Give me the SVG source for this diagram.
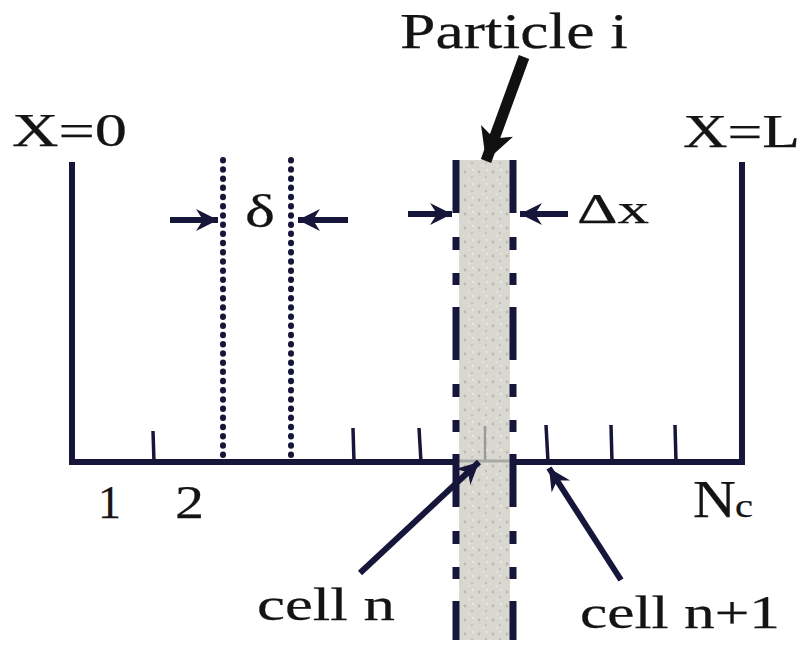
<svg xmlns="http://www.w3.org/2000/svg" width="806" height="649" viewBox="0 0 806 649">
<style>
.ln{stroke:#16163a;stroke-width:6;fill:none;stroke-linecap:butt}
.tick{stroke:#16163a;stroke-width:3.5;fill:none}
.dot{stroke:#16163a;stroke-width:6;fill:none;stroke-linecap:round;stroke-dasharray:0.5 8.7}
.dd{stroke:#16163a;stroke-width:7;fill:none;stroke-dasharray:53 24 13 23 12 22}
.arr{stroke:#16163a;stroke-width:6;fill:none}
.big{stroke:#111;stroke-width:11;fill:none}
.t{font-family:"Liberation Serif","Times New Roman",serif;fill:#141414;stroke:#141414;stroke-width:0.25}
</style>
<defs>
<pattern id="speck" width="14" height="14" patternUnits="userSpaceOnUse">
<rect width="14" height="14" fill="#d8d8d1"/>
<circle cx="3" cy="4" r="1.4" fill="#bfb8b0"/>
<circle cx="10" cy="9" r="1.2" fill="#c6bfb8"/>
<circle cx="7" cy="12" r="0.9" fill="#e8e8e2"/>
<circle cx="11" cy="2" r="1" fill="#ecece6"/>
</pattern>
<marker id="ah" markerUnits="userSpaceOnUse" viewBox="-24 -12 26 24" markerWidth="26" markerHeight="24" refX="0" refY="0" orient="auto">
<path d="M0,0 L-22,-11 L-15,0 L-22,11 Z" fill="#16163a"/>
</marker>
<marker id="ahb" markerUnits="userSpaceOnUse" viewBox="-34 -18 36 36" markerWidth="36" markerHeight="36" refX="0" refY="0" orient="auto">
<path d="M0,0 L-32,-17 L-24,0 L-32,17 Z" fill="#111"/>
</marker>
</defs>
<rect width="806" height="649" fill="#fff"/>

<g id="container">
<path class="ln" d="M72,162 V462 H455"/>
<path class="ln" d="M513,462 H742 V162"/>
</g>

<g id="ticks">
<path class="tick" d="M153,431 L154,462"/>
<path class="tick" d="M353,428 L354,462"/>
<path class="tick" d="M419,428 L421,462"/>
<path class="tick" d="M546,425 L548,462"/>
<path class="tick" d="M611,425 L612,462"/>
<path class="tick" d="M675,425 L676,462"/>
</g>

<g id="delta-lines">
<line class="dot" x1="223" y1="160" x2="223" y2="458"/>
<line class="dot" x1="291" y1="160" x2="291" y2="458"/>
</g>

<g id="particle">
<rect x="459" y="160" width="51" height="480" fill="url(#speck)"/>
<line x1="459" y1="461" x2="510" y2="461" stroke="#a8a8a4" stroke-width="3"/>
<line x1="485" y1="426" x2="485" y2="460" stroke="#9a9a96" stroke-width="2.5"/>
<line class="dd" x1="456" y1="160" x2="456" y2="640"/>
<line class="dd" x1="513" y1="160" x2="513" y2="640"/>
</g>

<g id="connectors">
<line class="arr" x1="170" y1="220" x2="218" y2="220" marker-end="url(#ah)"/>
<line class="arr" x1="348" y1="220" x2="298" y2="220" marker-end="url(#ah)"/>
<line class="arr" x1="408" y1="214" x2="452" y2="214" marker-end="url(#ah)"/>
<line class="arr" x1="568" y1="214" x2="520" y2="214" marker-end="url(#ah)"/>
<line class="big" x1="524" y1="57" x2="486" y2="161" marker-end="url(#ahb)"/>
<line class="arr" x1="360" y1="573" x2="479" y2="462" marker-end="url(#ah)"/>
<line class="arr" x1="621" y1="580" x2="549" y2="468" marker-end="url(#ah)"/>
</g>

<g id="labels">
<text class="t" x="400" y="48" font-size="50" textLength="228" lengthAdjust="spacingAndGlyphs">Particle i</text>
<text class="t" x="12" y="146" font-size="47" textLength="115" lengthAdjust="spacingAndGlyphs">X=0</text>
<text class="t" x="683" y="147" font-size="47" textLength="117" lengthAdjust="spacingAndGlyphs">X=L</text>
<text class="t" x="245" y="227" font-size="46" textLength="30" lengthAdjust="spacingAndGlyphs">δ</text>
<text class="t" x="577" y="223" font-size="42" textLength="72" lengthAdjust="spacingAndGlyphs">Δx</text>
<text class="t" x="98" y="518" font-size="47" textLength="23" lengthAdjust="spacingAndGlyphs">1</text>
<text class="t" x="175" y="518" font-size="47" textLength="29" lengthAdjust="spacingAndGlyphs">2</text>
<text class="t" x="693" y="517" font-size="52" textLength="43" lengthAdjust="spacingAndGlyphs">N</text>
<text class="t" x="735" y="517" font-size="34" textLength="18" lengthAdjust="spacingAndGlyphs">c</text>
<text class="t" x="257" y="620" font-size="47" textLength="138" lengthAdjust="spacingAndGlyphs">cell n</text>
<text class="t" x="580" y="628" font-size="47" textLength="200" lengthAdjust="spacingAndGlyphs">cell n+1</text>
</g>
</svg>
